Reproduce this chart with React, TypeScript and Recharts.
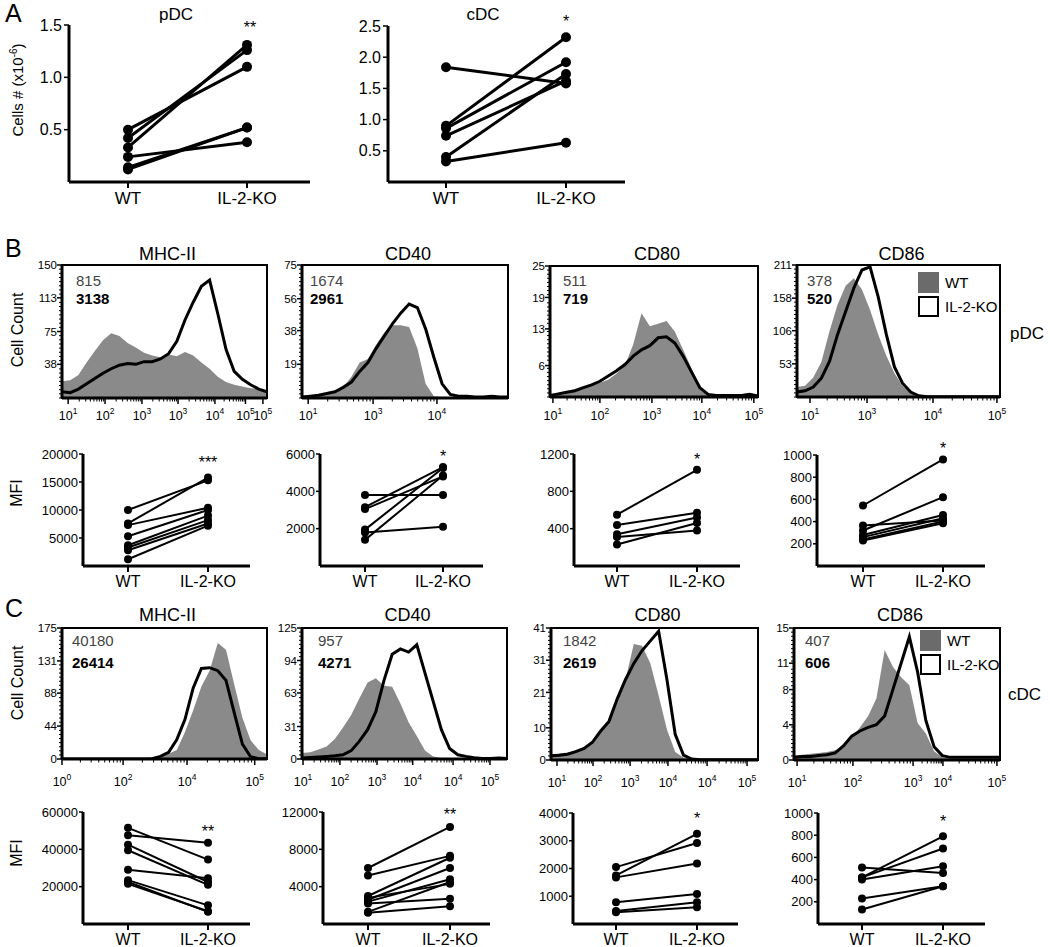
import React from 'react';
import { LineChart, Line, XAxis, YAxis, ComposedChart, Area, ReferenceArea } from 'recharts';

const FONT = '"Liberation Sans", Arial, Helvetica, sans-serif';
const GREY = '#8a8a8a';

// ---- Panel A: cell numbers (x10^-6). WT[i] is paired with KO[i]
const pdcWT = [0.5, 0.42, 0.33, 0.24, 0.14, 0.12];
const pdcKO = [1.1, 1.26, 1.31, 0.38, 0.52, 0.52];
const cdcWT = [1.84, 0.9, 0.86, 0.74, 0.4, 0.33];
const cdcKO = [1.58, 2.32, 1.92, 1.62, 1.73, 0.63];

// ---- Panel B: pDC MFI
const bMhcWT = [10000, 7600, 7300, 5300, 3700, 3300, 2800, 1200];
const bMhcKO = [15300, 15800, 10400, 10000, 9000, 8200, 7600, 7200];
const bCd40WT = [3800, 3150, 3050, 1950, 1800, 1400];
const bCd40KO = [3800, 5300, 4800, 5250, 2100, 4850];
const bCd80WT = [550, 440, 340, 310, 230];
const bCd80KO = [1030, 570, 520, 380, 460];
const bCd86WT = [545, 365, 320, 280, 260, 240, 230];
const bCd86KO = [960, 410, 620, 460, 430, 400, 385];

// ---- Panel C: cDC MFI
const cMhcWT = [51500, 47500, 42500, 39500, 29000, 23500, 22500, 21500];
const cMhcKO = [34500, 43500, 22500, 21000, 24500, 10000, 6500, 6800];
const cCd40WT = [6000, 5200, 3000, 2800, 2600, 2400, 2200, 1300, 1200];
const cCd40KO = [10400, 7300, 7100, 4300, 6000, 4800, 2700, 4500, 1900];
const cCd80WT = [2050, 1750, 1680, 780, 470, 420];
const cCd80KO = [2920, 3250, 2180, 1080, 780, 600];
const cCd86WT = [510, 420, 420, 400, 230, 130];
const cCd86KO = [460, 790, 680, 520, 340, 340];

// pair plot y ticks
const pdcY = [0.5, 1, 1.5];
const cdcY = [0.5, 1, 1.5, 2, 2.5];
const bMhcY = [5000, 10000, 15000, 20000];
const bCd40Y = [2000, 4000, 6000];
const bCd80Y = [400, 800, 1200];
const bCd86Y = [200, 400, 600, 800, 1000];
const cMhcY = [20000, 40000, 60000];
const cCd40Y = [4000, 8000, 12000];
const cCd80Y = [1000, 2000, 3000, 4000];
const cCd86Y = [200, 400, 600, 800, 1000];

// ---- Histograms: cell counts read at these positions (% of plot width)
const histX = [0, 4, 8, 12, 16, 20, 24, 28, 32, 36, 40, 44, 48, 52, 56, 60, 64, 68, 72, 76, 80, 84, 88, 92, 96, 100];

const bMhcHistWT = [19, 20, 26, 40, 53, 65, 73, 70, 62, 57, 51, 48, 46, 49, 47, 52, 48, 40, 33, 24, 18, 15, 13, 11, 10, 9];
const bMhcHistKO = [7, 6, 10, 16, 22, 28, 33, 37, 39, 38, 41, 41, 44, 50, 64, 88, 108, 126, 133, 95, 55, 30, 21, 15, 10, 7];
const bCd40HistWT = [1, 1, 1.5, 2, 3, 6, 12, 20, 22, 30, 37, 41, 41, 40, 28, 8, 1, 0.5, 0.3, 0.2, 0.2, 0.2, 0.2, 0.5, 0.5, 0.5];
const bCd40HistKO = [0.5, 1, 1.5, 2.5, 3.5, 6, 9, 15, 20, 28, 35, 42, 48, 53, 51, 39, 23, 8, 2, 1, 1, 0.5, 0.5, 1, 0.5, 0.5];
const bCd80HistWT = [0.3, 0.8, 1.1, 1.5, 1.8, 2.2, 2.7, 3.3, 4.5, 6, 10, 16, 13.5, 14, 14.5, 12.5, 9, 5.5, 2, 0.3, 0.2, 0.1, 0.1, 0.1, 0.1, 0.1];
const bCd80HistKO = [0.3, 0.6, 0.9, 1.2, 1.8, 2.3, 3, 4, 5, 6.2, 7.8, 9, 9.8, 11.3, 11.5, 10.3, 7.8, 4.8, 1.8, 0.5, 0.3, 0.3, 0.3, 0.3, 0.5, 0.2];
const bCd86HistWT = [16, 18, 31, 56, 105, 148, 178, 190, 172, 139, 100, 66, 38, 18, 6, 2, 0.5, 0.3, 0.2, 0.2, 0.2, 0.2, 0.2, 0.2, 0.2, 0.2];
const bCd86HistKO = [8, 10, 16, 30, 57, 100, 137, 174, 203, 208, 160, 100, 48, 22, 8, 2, 0.5, 0.3, 0.3, 0.3, 0.3, 0.3, 0.3, 0.3, 0.3, 0.3];

const cMhcHistWT = [0.5, 0.3, 0.3, 0.3, 0.3, 0.3, 0.5, 0.8, 1, 1.2, 1.3, 2, 3.5, 7, 12, 36, 65, 97, 118, 155, 146, 100, 55, 25, 12, 6];
const cMhcHistKO = [0, 0, 0, 0, 0, 0, 0, 0, 0, 0, 0, 0.5, 3.5, 9, 26, 53, 95, 121, 122, 118, 105, 62, 20, 3, 0.5, 0.3];
const cCd40HistWT = [5.7, 6.5, 9, 12, 19, 30, 42, 58, 73, 77, 70, 69, 53, 35, 22, 8, 2.5, 1, 0.5, 0.5, 0.3, 0.3, 0.3, 0.3, 0.3, 0.3];
const cCd40HistKO = [1, 1.5, 2, 2.5, 3, 4, 8, 17, 28, 45, 75, 100, 105, 102, 109, 82, 55, 28, 10, 4, 2.5, 1.2, 0.5, 0.5, 1, 0.5];
const cCd80HistWT = [1.8, 2, 2.3, 3, 4, 5.5, 9.5, 12.5, 18, 25, 36, 35.5, 30, 20, 9.5, 2.5, 0.8, 0.2, 0.1, 0.1, 0.1, 0.1, 0.1, 0.1, 0.1, 0.1];
const cCd80HistKO = [1.3, 1.5, 1.8, 2.6, 3.6, 5.5, 9, 12, 19, 25, 30, 34, 37, 40, 25, 8, 1.5, 0.3, 0.1, 0.1, 0.1, 0.1, 0.1, 0.1, 0.1, 0.1];
const cCd86HistWT = [0.5, 0.6, 0.7, 0.8, 0.9, 1.1, 1.4, 2.5, 3.7, 5, 7, 12.5, 10.6, 9.4, 8.5, 4.2, 3, 1, 0.3, 0.2, 0.2, 0.2, 0.2, 0.2, 0.2, 0.2];
const cCd86HistKO = [0.3, 0.4, 0.4, 0.5, 0.6, 0.8, 1.6, 2.7, 3.3, 3.7, 4, 5, 8, 11, 14, 10, 4.5, 1.5, 0.5, 0.3, 0.3, 0.3, 0.3, 0.3, 0.3, 0.3];

// histogram y tick labels
const bMhcHY = [38, 75, 113, 150];
const bCd40HY = [19, 38, 56, 75];
const bCd80HY = [6, 13, 19, 25];
const bCd86HY = [53, 106, 158, 211];
const cMhcHY = [0, 44, 88, 131, 175];
const cCd40HY = [0, 31, 63, 94, 125];
const cCd80HY = [0, 10, 21, 31, 41];
const cCd86HY = [0, 4, 8, 11, 15];

// histogram x tick labels (10^n): position in % of width, exponent
const bMhcXPos = [3, 21, 39, 56.6, 74.6, 89.5, 98];
const bMhcXExp = [1, 2, 3, 3, 4, 5, 5];
const bCd40XPos = [3, 34.5, 65.5];
const bCd40XExp = [1, 3, 4];
const bCd80XPos = [1.4, 24, 49, 73, 98];
const bCd80XExp = [1, 2, 3, 4, 5];
const bCd86XPos = [6.4, 34.5, 67, 98.5];
const bCd86XExp = [1, 3, 4, 5];
const cMhcXPos = [0, 29.8, 61, 94];
const cMhcXExp = [0, 2, 4, 5];
const cCd40XPos = [0.5, 18.5, 36.6, 54, 73.7, 91.7];
const cCd40XExp = [1, 2, 3, 4, 4, 5];
const cCd80XPos = [2.9, 20.3, 38.2, 56.5, 75.4, 94.7];
const cCd80XExp = [1, 2, 3, 4, 4, 5];
const cCd86XPos = [1.5, 28.6, 57.8, 72.3, 98.5];
const cCd86XExp = [1, 2, 3, 4, 5];

type PairCfg = {
  axisLeft: number; axisRight: number; top: number; bottom: number; wtX: number; koX: number;
  wt: number[]; ko: number[]; yMax: number; yTicks: number[]; dec: number;
  r: number; sw: number; tickFont: number; catFont: number; tickSize: number; tickMargin: number;
};

const pairPanels: PairCfg[] = [
  { axisLeft: 69, axisRight: 310, top: 25, bottom: 182, wtX: 128, koX: 247, wt: pdcWT, ko: pdcKO, yMax: 1.5, yTicks: pdcY, dec: 1, r: 5, sw: 3, tickFont: 16, catFont: 17, tickSize: 5, tickMargin: 2 },
  { axisLeft: 388, axisRight: 625, top: 26, bottom: 182, wtX: 446, koX: 566, wt: cdcWT, ko: cdcKO, yMax: 2.5, yTicks: cdcY, dec: 1, r: 5, sw: 3, tickFont: 16, catFont: 17, tickSize: 5, tickMargin: 2 },
  { axisLeft: 83, axisRight: 250, top: 454, bottom: 566, wtX: 128, koX: 208, wt: bMhcWT, ko: bMhcKO, yMax: 20000, yTicks: bMhcY, dec: 0, r: 4, sw: 2, tickFont: 13, catFont: 16, tickSize: 4, tickMargin: 1 },
  { axisLeft: 320, axisRight: 483, top: 454, bottom: 566, wtX: 365, koX: 443, wt: bCd40WT, ko: bCd40KO, yMax: 6000, yTicks: bCd40Y, dec: 0, r: 4, sw: 2, tickFont: 13, catFont: 16, tickSize: 4, tickMargin: 1 },
  { axisLeft: 574, axisRight: 740, top: 454, bottom: 566, wtX: 617, koX: 697, wt: bCd80WT, ko: bCd80KO, yMax: 1200, yTicks: bCd80Y, dec: 0, r: 4, sw: 2, tickFont: 13, catFont: 16, tickSize: 4, tickMargin: 1 },
  { axisLeft: 817, axisRight: 985, top: 455, bottom: 566, wtX: 863, koX: 943, wt: bCd86WT, ko: bCd86KO, yMax: 1000, yTicks: bCd86Y, dec: 0, r: 4, sw: 2, tickFont: 13, catFont: 16, tickSize: 4, tickMargin: 1 },
  { axisLeft: 83, axisRight: 250, top: 812, bottom: 924, wtX: 128, koX: 208, wt: cMhcWT, ko: cMhcKO, yMax: 60000, yTicks: cMhcY, dec: 0, r: 4, sw: 2, tickFont: 13, catFont: 16, tickSize: 4, tickMargin: 1 },
  { axisLeft: 323, axisRight: 490, top: 812, bottom: 924, wtX: 368, koX: 450, wt: cCd40WT, ko: cCd40KO, yMax: 12000, yTicks: cCd40Y, dec: 0, r: 4, sw: 2, tickFont: 13, catFont: 16, tickSize: 4, tickMargin: 1 },
  { axisLeft: 573, axisRight: 738, top: 813, bottom: 924, wtX: 616, koX: 697, wt: cCd80WT, ko: cCd80KO, yMax: 4000, yTicks: cCd80Y, dec: 0, r: 4, sw: 2, tickFont: 13, catFont: 16, tickSize: 4, tickMargin: 1 },
  { axisLeft: 818, axisRight: 985, top: 813, bottom: 924, wtX: 862, koX: 943, wt: cCd86WT, ko: cCd86KO, yMax: 1000, yTicks: cCd86Y, dec: 0, r: 4, sw: 2, tickFont: 13, catFont: 16, tickSize: 4, tickMargin: 1 },
];

type HistCfg = {
  left: number; top: number; right: number; bottom: number; wt: number[]; ko: number[];
  yMax: number; yTicks: number[]; xPos: number[]; xExp: number[]; labelDy: number;
};

const histPanels: HistCfg[] = [
  { left: 62, top: 265, right: 267, bottom: 398, wt: bMhcHistWT, ko: bMhcHistKO, yMax: 150, yTicks: bMhcHY, xPos: bMhcXPos, xExp: bMhcXExp, labelDy: 22 },
  { left: 302, top: 265, right: 508, bottom: 398, wt: bCd40HistWT, ko: bCd40HistKO, yMax: 75, yTicks: bCd40HY, xPos: bCd40XPos, xExp: bCd40XExp, labelDy: 22 },
  { left: 550, top: 266, right: 758, bottom: 397, wt: bCd80HistWT, ko: bCd80HistKO, yMax: 25, yTicks: bCd80HY, xPos: bCd80XPos, xExp: bCd80XExp, labelDy: 23 },
  { left: 797, top: 265, right: 1000, bottom: 397, wt: bCd86HistWT, ko: bCd86HistKO, yMax: 211, yTicks: bCd86HY, xPos: bCd86XPos, xExp: bCd86XExp, labelDy: 23 },
  { left: 62, top: 628, right: 267, bottom: 759, wt: cMhcHistWT, ko: cMhcHistKO, yMax: 175, yTicks: cMhcHY, xPos: cMhcXPos, xExp: cMhcXExp, labelDy: 27 },
  { left: 302, top: 628, right: 507, bottom: 759, wt: cCd40HistWT, ko: cCd40HistKO, yMax: 125, yTicks: cCd40HY, xPos: cCd40XPos, xExp: cCd40XExp, labelDy: 27 },
  { left: 551, top: 628, right: 758, bottom: 760, wt: cCd80HistWT, ko: cCd80HistKO, yMax: 41, yTicks: cCd80HY, xPos: cCd80XPos, xExp: cCd80XExp, labelDy: 27 },
  { left: 794, top: 628, right: 1000, bottom: 760, wt: cCd86HistWT, ko: cCd86HistKO, yMax: 15, yTicks: cCd86HY, xPos: cCd86XPos, xExp: cCd86XExp, labelDy: 27 },
];

function PairPlot({ c }: { c: PairCfg }) {
  const yW = 60, mt = 10, mr = 10, xH = 34;
  const unit = (c.koX - c.wtX) / 2;
  const xMin = 1 - (c.wtX - c.axisLeft) / unit;
  const xMax = 3 + (c.axisRight - c.koX) / unit;
  const width = yW + (c.axisRight - c.axisLeft) + mr;
  const height = mt + (c.bottom - c.top) + xH;
  const pairs = c.wt.map((w, i) => [{ x: 1, y: w }, { x: 3, y: c.ko[i] }]);
  return (
    <div style={{ position: 'absolute', left: c.axisLeft - yW, top: c.top - mt }}>
      <LineChart width={width} height={height} margin={{ top: mt, right: mr, bottom: 0, left: 0 }}>
        <XAxis
          type="number" dataKey="x" domain={[xMin, xMax]} ticks={[1, 3]} interval={0} allowDataOverflow
          tickFormatter={(v: number) => (v === 1 ? 'WT' : 'IL-2-KO')}
          axisLine={{ stroke: '#000', strokeWidth: 3 }} tickLine={{ stroke: '#000', strokeWidth: 2 }}
          tickSize={6} tickMargin={4} height={xH} tick={{ fill: '#000', fontSize: c.catFont }}
        />
        <YAxis
          type="number" domain={[0, c.yMax]} ticks={c.yTicks} interval={0} allowDataOverflow width={yW}
          tickFormatter={(v: number) => v.toFixed(c.dec)}
          axisLine={{ stroke: '#000', strokeWidth: 3 }} tickLine={{ stroke: '#000', strokeWidth: 1.5 }}
          tickSize={c.tickSize} tickMargin={c.tickMargin} tick={{ fill: '#000', fontSize: c.tickFont }}
        />
        {pairs.map((d, i) => (
          <Line key={i} data={d} dataKey="y" type="linear" stroke="#000" strokeWidth={c.sw}
            dot={{ r: c.r, fill: '#000', stroke: '#000', strokeWidth: 0 }} isAnimationActive={false} />
        ))}
      </LineChart>
    </div>
  );
}

function Histogram({ c }: { c: HistCfg }) {
  const yW = 40, mt = 9, mr = 14, xH = 36;
  const w = c.right - c.left, h = c.bottom - c.top;
  const rows = histX.map((x, i) => ({ x, wt: c.wt[i], ko: c.ko[i] }));
  const minorY: number[] = [];
  for (let i = 0; i <= 32; i++) {
    const v = (c.yMax * i) / 32;
    if (!c.yTicks.some((t) => Math.abs(t - v) < c.yMax / 64)) minorY.push(v);
  }
  const minorX: number[] = [];
  for (let i = 0; i < c.xPos.length - 1; i++) {
    const a = c.xPos[i], b = c.xPos[i + 1];
    if (b - a < 10) continue;
    for (let k = 2; k <= 9; k++) minorX.push(a + (b - a) * Math.log10(k));
  }
  const xTicks = [...c.xPos, ...minorX].sort((p, q) => p - q);
  const yTicks = [...c.yTicks, ...minorY].sort((p, q) => p - q);

  const xTick = (p: any) => {
    const v = p.payload.value;
    const mi = c.xPos.findIndex((q) => Math.abs(q - v) < 0.001);
    if (mi < 0) return <line x1={p.x} y1={p.y} x2={p.x} y2={p.y + 3.5} stroke="#000" strokeWidth={1} />;
    return (
      <g>
        <line x1={p.x} y1={p.y} x2={p.x} y2={p.y + 6} stroke="#000" strokeWidth={1.5} />
        <text x={p.x} y={p.y + c.labelDy} textAnchor="middle" fontSize={12.5} fill="#000">
          10<tspan dy={-6} fontSize={8.5}>{c.xExp[mi]}</tspan>
        </text>
      </g>
    );
  };
  const yTick = (p: any) => {
    const v = p.payload.value;
    const major = c.yTicks.some((t) => Math.abs(t - v) < 1e-6);
    if (!major) return <line x1={p.x} y1={p.y} x2={p.x - 3} y2={p.y} stroke="#000" strokeWidth={1} />;
    return (
      <g>
        <line x1={p.x} y1={p.y} x2={p.x - 5} y2={p.y} stroke="#000" strokeWidth={1.5} />
        <text x={p.x - 5} y={p.y} dy="0.36em" textAnchor="end" fontSize={11.5} fill="#000">{v}</text>
      </g>
    );
  };

  return (
    <div style={{ position: 'absolute', left: c.left - yW, top: c.top - mt }}>
      <ComposedChart width={yW + w + mr} height={mt + h + xH} data={rows} margin={{ top: mt, right: mr, bottom: 0, left: 0 }}>
        <XAxis type="number" dataKey="x" domain={[0, 100]} ticks={xTicks} interval={0} allowDataOverflow
          tick={xTick} tickLine={false} tickSize={0} tickMargin={0} height={xH}
          axisLine={{ stroke: '#000', strokeWidth: 3 }} />
        <YAxis type="number" domain={[0, c.yMax]} ticks={yTicks} interval={0} allowDataOverflow
          tick={yTick} tickLine={false} tickSize={0} tickMargin={0} width={yW}
          axisLine={{ stroke: '#000', strokeWidth: 3 }} />
        <Area dataKey="wt" type="linear" fill={GREY} fillOpacity={1} stroke="none" isAnimationActive={false} />
        <Line dataKey="ko" type="linear" stroke="#000" strokeWidth={3} dot={false} isAnimationActive={false} />
        <ReferenceArea x1={0} x2={100} y1={0} y2={c.yMax} fill="none" fillOpacity={0} stroke="#000" strokeWidth={2} ifOverflow="visible" />
      </ComposedChart>
    </div>
  );
}

function Txt({ x, y, children, size = 16, anchor = 'middle', weight = 400, color = '#000', rotate = false }: any) {
  const tx = anchor === 'middle' ? '-50%' : anchor === 'end' ? '-100%' : '0%';
  return (
    <div style={{
      position: 'absolute', left: x, top: y, fontSize: size, fontWeight: weight, color,
      whiteSpace: 'nowrap', lineHeight: 1,
      transform: `translate(${tx}, -50%)${rotate ? ' rotate(-90deg)' : ''}`,
      transformOrigin: rotate ? 'center' : undefined,
    }}>{children}</div>
  );
}

function LegendBox({ x, y }: { x: number; y: number }) {
  return (
    <>
      <div style={{ position: 'absolute', left: x, top: y, width: 21, height: 21, background: '#6b6b6b' }} />
      <Txt x={x + 27} y={y + 10} size={15} anchor="start">WT</Txt>
      <div style={{ position: 'absolute', left: x, top: y + 24, width: 17, height: 17, border: '2px solid #000', background: '#fff' }} />
      <Txt x={x + 27} y={y + 34} size={15} anchor="start">IL-2-KO</Txt>
    </>
  );
}

const histTitles = ['MHC-II', 'CD40', 'CD80', 'CD86'];
const bCounts = [['815', '3138'], ['1674', '2961'], ['511', '719'], ['378', '520']];
const cCounts = [['40180', '26414'], ['957', '4271'], ['1842', '2619'], ['407', '606']];
const bCountX = [76, 310, 563, 807];
const cCountX = [72, 318, 563, 805];
const bStars = ['***', '*', '*', '*'];
const cStars = ['**', '**', '*', '*'];
const bStarY = [463, 457, 460, 449];
const cStarY = [832, 815, 819, 822];

export default function App() {
  return (
    <div style={{ position: 'relative', width: 1050, height: 947, overflow: 'hidden', background: '#fff', fontFamily: FONT, color: '#000' }}>
      <style>{'body{margin:0;}'}</style>

      {/* Panel A */}
      <Txt x={5} y={13} size={25} anchor="start">A</Txt>
      <Txt x={176} y={14} size={17}>pDC</Txt>
      <Txt x={483} y={14} size={17}>cDC</Txt>
      <Txt x={250} y={28} size={16}>**</Txt>
      <Txt x={566} y={22} size={16}>*</Txt>
      <Txt x={17} y={90} size={15} rotate>Cells # (x10<sup style={{ fontSize: 10 }}>-6</sup>)</Txt>
      {pairPanels.slice(0, 2).map((c, i) => <PairPlot key={'a' + i} c={c} />)}

      {/* Panel B */}
      <Txt x={5} y={248} size={25} anchor="start">B</Txt>
      <Txt x={18} y={330} size={16} rotate>Cell Count</Txt>
      <Txt x={1010} y={333} size={17} anchor="start">pDC</Txt>
      {histPanels.slice(0, 4).map((c, i) => (
        <React.Fragment key={'bh' + i}>
          <Txt x={(c.left + c.right) / 2 + 3} y={254} size={18}>{histTitles[i]}</Txt>
          <Histogram c={c} />
          <Txt x={bCountX[i]} y={280} size={15} anchor="start" color="#444">{bCounts[i][0]}</Txt>
          <Txt x={bCountX[i]} y={298} size={15} anchor="start" weight={700}>{bCounts[i][1]}</Txt>
        </React.Fragment>
      ))}
      <LegendBox x={918} y={272} />
      <Txt x={17} y={493} size={16} rotate>MFI</Txt>
      {pairPanels.slice(2, 6).map((c, i) => (
        <React.Fragment key={'bm' + i}>
          <PairPlot c={c} />
          <Txt x={c.koX} y={bStarY[i]} size={16}>{bStars[i]}</Txt>
        </React.Fragment>
      ))}

      {/* Panel C */}
      <Txt x={5} y={608} size={25} anchor="start">C</Txt>
      <Txt x={18} y={683} size={16} rotate>Cell Count</Txt>
      <Txt x={1008} y={694} size={17} anchor="start">cDC</Txt>
      {histPanels.slice(4, 8).map((c, i) => (
        <React.Fragment key={'ch' + i}>
          <Txt x={(c.left + c.right) / 2 + 3} y={615} size={18}>{histTitles[i]}</Txt>
          <Histogram c={c} />
          <Txt x={cCountX[i]} y={640} size={15} anchor="start" color="#444">{cCounts[i][0]}</Txt>
          <Txt x={cCountX[i]} y={662} size={15} anchor="start" weight={700}>{cCounts[i][1]}</Txt>
        </React.Fragment>
      ))}
      <LegendBox x={920} y={630} />
      <Txt x={17} y={853} size={16} rotate>MFI</Txt>
      {pairPanels.slice(6, 10).map((c, i) => (
        <React.Fragment key={'cm' + i}>
          <PairPlot c={c} />
          <Txt x={c.koX} y={cStarY[i]} size={16}>{cStars[i]}</Txt>
        </React.Fragment>
      ))}
    </div>
  );
}
